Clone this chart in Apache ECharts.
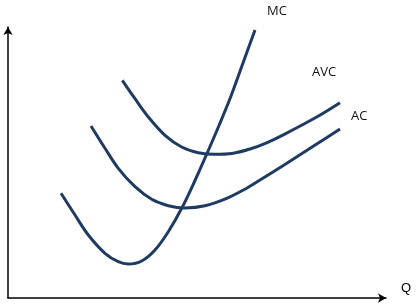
<!DOCTYPE html>
<html><head><meta charset="utf-8">
<script src="https://cdn.jsdelivr.net/npm/echarts@6/dist/echarts.min.js"></script>
<style>html,body{margin:0;padding:0;background:#fff}#c{width:416px;height:307px}</style>
</head><body><div id="c"></div>
<script>
const seriesNames = ['MC', 'AVC', 'AC'];
const mcData = [[13.87,38.07],[17.54,30.18],[21.02,22.91],[25.39,16.25],[28.87,13.20],[31.49,12.36],[35.00,13.45],[38.48,17.45],[41.96,24.11],[45.47,32.62],[48.95,42.73],[52.09,52.55],[55.24,62.73],[58.38,73.45],[61.52,85.45],[64.66,97.45]];
const avcData = [[29.92,79.16],[33.25,72.47],[36.73,65.82],[41.10,59.16],[45.47,54.91],[49.82,52.84],[54.19,52.25],[58.64,52.55],[63.35,54.18],[67.54,56.36],[72.07,59.35],[80.81,65.82],[86.91,71.02]];
const acData = [[21.73,62.55],[25.39,54.44],[28.87,47.16],[33.25,40.47],[37.62,35.89],[41.96,33.56],[46.34,32.73],[51.57,33.53],[57.25,36.25],[61.60,39.27],[65.97,42.91],[72.07,48.18],[80.81,56.00],[86.91,61.45]];
const xAxisName = 'Q';

const color = '#1F3B61';
const labelOffsets = [[4,-19],[-36,-30],[3,-13]];
const datas = [mcData, avcData, acData];
const chart = echarts.init(document.getElementById('c'));
chart.setOption({
  animation: false,
  grid: {left: 8, right: 30, top: 27, bottom: 9},
  xAxis: {
    type: 'value', min: 0, max: 98.95,
    name: xAxisName, nameLocation: 'end', nameGap: 15,
    nameTextStyle: {fontFamily: 'Liberation Sans', fontSize: 13, color: '#000', verticalAlign: 'bottom', padding: [0,0,3,0]},
    axisLine: {lineStyle: {color: '#000', width: 1.5}, symbol: ['none','arrow'], symbolSize: [7,8]},
    axisTick: {show: false}, axisLabel: {show: false}, splitLine: {show: false}
  },
  yAxis: {
    type: 'value', min: 0, max: 98.55,
    axisLine: {show: true, lineStyle: {color: '#000', width: 1.5}, symbol: ['none','arrow'], symbolSize: [7,8]},
    axisTick: {show: false}, axisLabel: {show: false}, splitLine: {show: false}
  },
  series: seriesNames.map((n, i) => ({
    name: n, type: 'line', data: datas[i], smooth: 0.35, showSymbol: false,
    lineStyle: {color: color, width: 3, cap: 'butt', join: 'round'}, clip: false,
    endLabel: {show: true, formatter: '{a}', offset: labelOffsets[i], fontFamily: 'Open Sans', fontSize: 13, color: '#111'}
  }))
});
</script></body></html>
